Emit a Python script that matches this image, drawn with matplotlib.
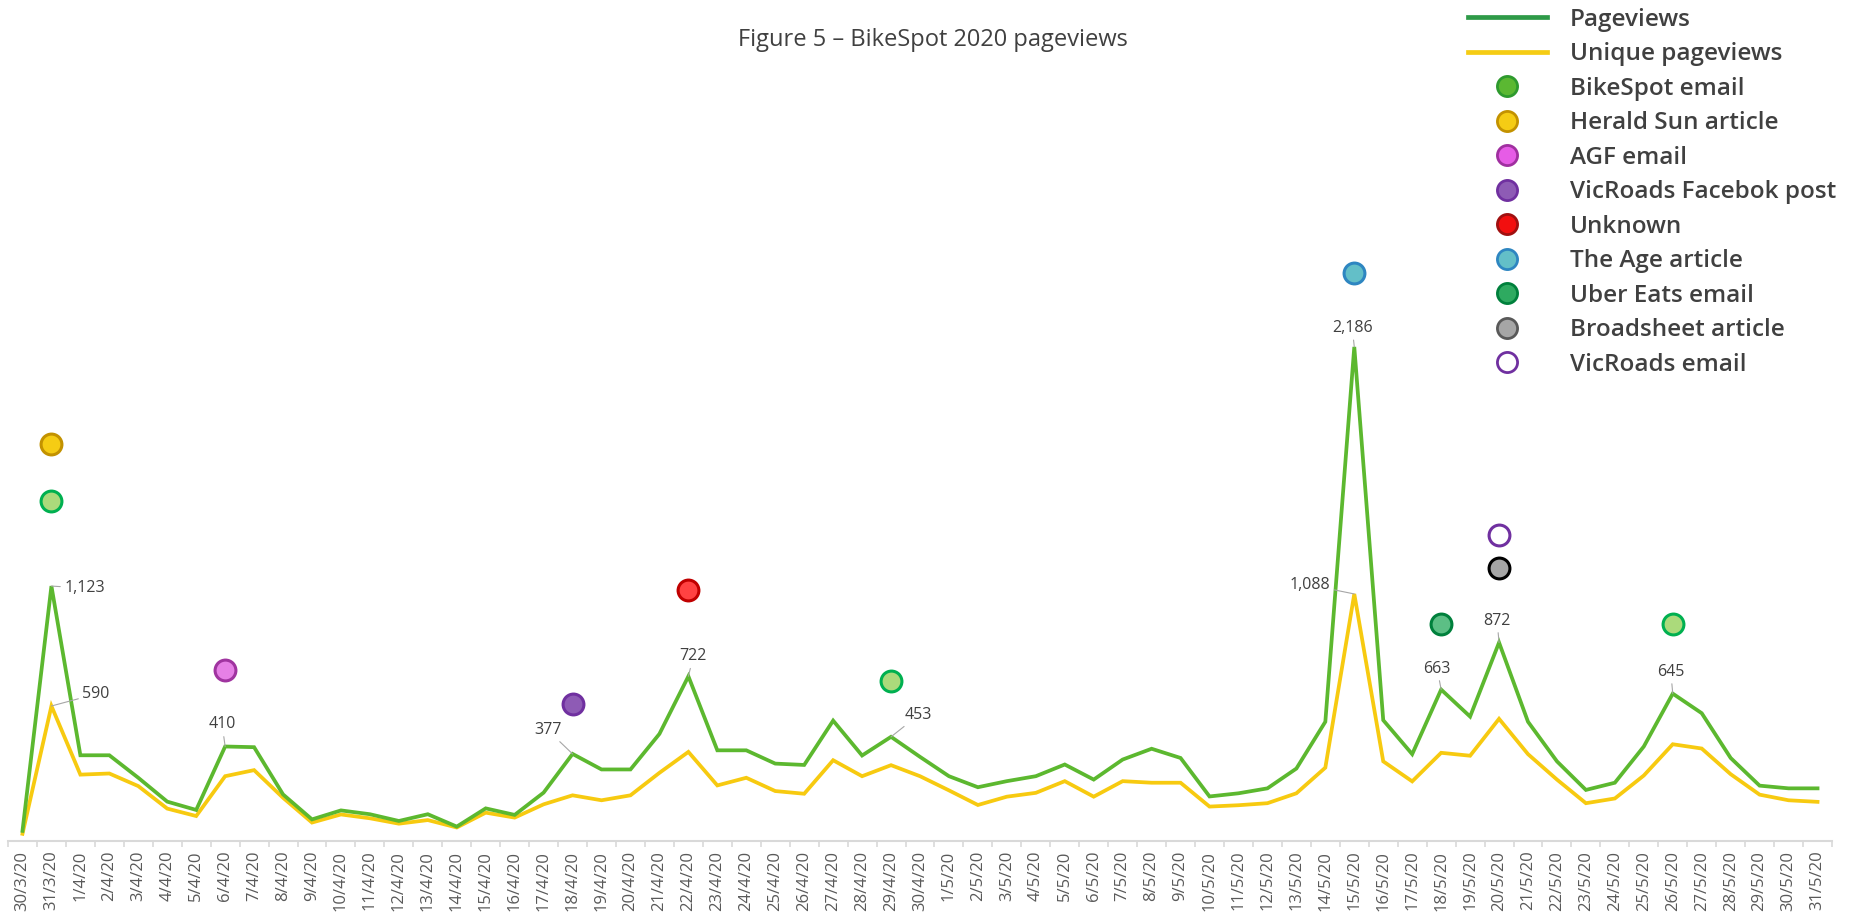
import matplotlib
matplotlib.use('Agg')
import matplotlib.pyplot as plt
from matplotlib.lines import Line2D

plt.rcParams['font.family'] = ['Open Sans', 'DejaVu Sans']

dates = ['30/3/20', '31/3/20',
         '1/4/20', '2/4/20', '3/4/20', '4/4/20', '5/4/20', '6/4/20', '7/4/20', '8/4/20', '9/4/20', '10/4/20',
         '11/4/20', '12/4/20', '13/4/20', '14/4/20', '15/4/20', '16/4/20', '17/4/20', '18/4/20', '19/4/20', '20/4/20',
         '21/4/20', '22/4/20', '23/4/20', '24/4/20', '25/4/20', '26/4/20', '27/4/20', '28/4/20', '29/4/20', '30/4/20',
         '1/5/20', '2/5/20', '3/5/20', '4/5/20', '5/5/20', '6/5/20', '7/5/20', '8/5/20', '9/5/20', '10/5/20',
         '11/5/20', '12/5/20', '13/5/20', '14/5/20', '15/5/20', '16/5/20', '17/5/20', '18/5/20', '19/5/20', '20/5/20',
         '21/5/20', '22/5/20', '23/5/20', '24/5/20', '25/5/20', '26/5/20', '27/5/20', '28/5/20', '29/5/20', '30/5/20',
         '31/5/20']

pageviews = [35, 1123, 371, 371, 271, 165, 128, 410, 407, 197, 86, 126, 109, 79, 109, 54, 135, 106, 205, 377,
             308, 308, 466, 722, 393, 393, 334, 328, 525, 370, 453, 364, 278, 229, 256, 278, 330, 263, 352, 400,
             359, 188, 202, 224, 312, 520, 2186, 527, 376, 663, 543, 872, 520, 344, 217, 249, 410, 645, 558, 359,
             236, 224, 224]
unique = [22, 590, 285, 290, 234, 134, 101, 278, 305, 182, 72, 108, 91, 67, 83, 50, 116, 94, 153, 193,
          171, 193, 293, 386, 237, 271, 212, 200, 349, 278, 327, 278, 215, 150, 187, 204, 256, 187, 256, 249,
          249, 143, 149, 158, 202, 316, 1088, 344, 255, 382, 369, 533, 376, 263, 158, 179, 281, 420, 401, 287,
          196, 171, 164]

# events: (date indices, marker heights)
ev_bikespot = ([1, 30, 57], [1502, 703, 953])
ev_herald = ([1], [1755])
ev_agf = ([7], [752])
ev_vicfb = ([19], [600])
ev_unknown = ([23], [1105])
ev_age = ([46], [2514])
ev_uber = ([49], [953])
ev_broadsheet = ([51], [1205])
ev_vicemail = ([51], [1351])

# labelled points: (index, value, dx, dy, ha)
labels = [(1, 1123, 13, -2, 'left'), (1, 590, 31, 12, 'left'), (7, 410, -3, 22, 'center'),
          (19, 377, -25, 24, 'center'), (23, 722, 5, 20, 'center'), (30, 453, 14, 22, 'left'),
          (46, 2186, -2, 19, 'center'), (46, 1088, -24, 9, 'right'), (49, 663, -4, 21, 'center'),
          (51, 872, -2, 22, 'center'), (57, 645, -2, 22, 'center')]

W, H = 1856, 915
fig = plt.figure(figsize=(W / 100, H / 100), dpi=100)
ax = fig.add_axes([8 / W, 74 / H, 1824 / W, 677.25 / H])

x = list(range(len(dates)))
ax.plot(x, pageviews, color='#5cb82f', lw=2.7, solid_joinstyle='miter', zorder=3)
ax.plot(x, unique, color='#f7ca10', lw=2.7, solid_joinstyle='miter', zorder=2)

def events(ev, face, edge):
    ax.plot(ev[0], ev[1], 'o', ms=15, mfc=face, mec=edge, mew=2.2, ls='none', zorder=5)

events(ev_bikespot, '#abda7b', '#00b050')
events(ev_herald, '#f5cc14', '#c39200')
events(ev_agf, '#e680e6', '#a034a0')
events(ev_vicfb, '#8e5bb5', '#7030a0')
events(ev_unknown, '#ff4242', '#c00000')
events(ev_age, '#63bfc8', '#2e86c1')
events(ev_uber, '#5cbf85', '#00803c')
events(ev_broadsheet, '#a6a6a6', '#000000')
events(ev_vicemail, 'white', '#7030a0')

for i, v, dx, dy, ha in labels:
    ax.annotate(f'{v:,}', xy=(i, v), xytext=(dx, dy), textcoords='offset pixels',
                ha=ha, va='center', fontsize=11.5, color='#404040',
                arrowprops=dict(arrowstyle='-', color='#a6a6a6', lw=0.8, shrinkA=1, shrinkB=0))

ax.set_xlim(-0.5, len(dates) - 0.5)
ax.set_ylim(-10, 3000)
ax.set_xticks(x)
ax.set_xticklabels(dates, rotation=90, fontsize=12, color='#595959')
ax.tick_params(axis='x', which='major', length=0, pad=7)
ax.set_xticks([i - 0.5 for i in range(len(dates) + 1)], minor=True)
ax.tick_params(axis='x', which='minor', length=4, color='#d9d9d9', width=1.2)
ax.set_yticks([])
for s in ['top', 'right', 'left']:
    ax.spines[s].set_visible(False)
ax.spines['bottom'].set_color('#d9d9d9')
ax.spines['bottom'].set_linewidth(1.5)

fig.text(933 / W, 1 - 45.5 / H, 'Figure 5 \u2013 BikeSpot 2020 pageviews', ha='center', va='baseline',
         fontsize=17, color='#404040')

def mk(face, edge):
    return Line2D([], [], marker='o', ls='none', ms=14.5, mfc=face, mec=edge, mew=2)

handles = [Line2D([], [], color='#2e9a48', lw=3.4), Line2D([], [], color='#f5cc14', lw=3.4),
           mk('#5bb832', '#2e9a2e'), mk('#f5cc14', '#c39200'), mk('#e65ce6', '#a030a0'),
           mk('#8e5bb5', '#7030a0'), mk('#f20f0f', '#a01010'), mk('#63bfc8', '#2e86c1'),
           mk('#2eaa60', '#00803c'), mk('#a6a6a6', '#595959'), mk('white', '#7030a0')]
names = ['Pageviews', 'Unique pageviews', 'BikeSpot email', 'Herald Sun article', 'AGF email',
         'VicRoads Facebok post', 'Unknown', 'The Age article', 'Uber Eats email', 'Broadsheet article',
         'VicRoads email']
leg = fig.legend(handles, names, loc='upper left', bbox_to_anchor=(1468 / W, 1 - 8 / H),
                 frameon=False, fontsize=17.5, handlelength=3.25, handletextpad=0.95, labelspacing=0.43,
                 borderpad=0, borderaxespad=0)
for t in leg.get_texts():
    t.set_color('#404040')
    t.set_fontweight('semibold')

fig.savefig('out.png', dpi=100)
